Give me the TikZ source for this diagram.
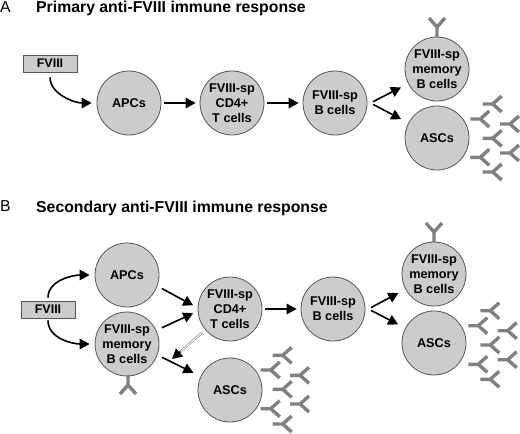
\documentclass[tikz,border=0pt]{standalone}
\usepackage{fontspec}
\setmainfont{Liberation Sans}
\usetikzlibrary{arrows.meta,positioning}
\definecolor{cellgray}{HTML}{CCCCCC}
\definecolor{edgegray}{HTML}{555555}
\definecolor{abgray}{HTML}{808080}

\begin{document}
\begin{tikzpicture}[
    x=1pt, y=-1pt,
    cell/.style={circle, draw=edgegray, line width=0.8pt, fill=cellgray, minimum size=64pt, inner sep=0pt, align=center, font=\fontsize{12.7}{15}\selectfont\bfseries},
    antigen/.style={rectangle, draw=edgegray, line width=0.8pt, fill=cellgray, minimum width=54pt, minimum height=17pt, inner sep=0pt, font=\fontsize{12.5}{13}\selectfont\bfseries},
    heading/.style={anchor=base west, inner sep=0pt, font=\fontsize{15.8}{17}\selectfont\bfseries},
    letter/.style={anchor=base west, inner sep=0pt, font=\fontsize{15.8}{17}\selectfont},
    flow/.style={-{Triangle[length=10pt,width=10.5pt]}, line width=1.6pt, black, shorten <=3pt, shorten >=4pt},
    help/.style={draw=gray, double=white, double distance=1pt, line width=0.6pt},
    abline/.style={draw=abgray, line width=3.4pt},
    antibody/.pic={\draw[abline] (0,0) -- (10,0) (19,-8) -- (10,0) -- (19,8);},
]
\useasboundingbox (0,0) rectangle (520,434);

% PRIMARY
\begin{scope}
    \node[letter] (LetterA) at (0,12) {A};
    \node[heading] (TitleA) at (36,12) {Primary anti-FVIII immune response};
    \node[antigen] (FVIII1) at (50,63.5) {FVIII};
    \node[cell] (APC1) at (129,103) {APCs};
    \node[cell] (CD41) at (232,103) {FVIII-sp\\CD4+\\T cells};
    \node[cell] (B1) at (335,103) {FVIII-sp\\B cells};
    \node[cell] (MEM1) at (437,69) {FVIII-sp\\memory\\B cells};
    \node[cell] (ASC1) at (437,138) {ASCs};
    \draw[flow, shorten <=5pt, shorten >=5pt] (FVIII1.south) to[out=-90, in=180] (APC1.west);
    \draw[flow] (APC1) -- (CD41);
    \draw[flow] (CD41) -- (B1);
    % Split after the B cells
    \draw[flow, shorten >=8pt] (B1.east) ++(3,0) coordinate (fork1) -- (MEM1);
    \draw[flow, shorten >=8pt] (fork1) -- (ASC1);
    \pic[rotate=90] at (437,37) {antibody};
    \foreach \ax/\ay in {482.7/104, 470.3/119, 500/124, 482.7/138.3, 470.3/157.3, 500/153, 482.7/172}
        \pic at (\ax,\ay) {antibody};
\end{scope}

% SECONDARY
\begin{scope}
    \node[letter] (LetterB) at (0,211) {B};
    \node[heading] (TitleB) at (36,212) {Secondary anti-FVIII immune response};
    \node[antigen] (FVIII2) at (48,309.5) {FVIII};
    \node[cell] (APC2) at (127,275) {APCs};
    \node[cell] (MEM2) at (127,344) {FVIII-sp\\memory\\B cells};
    \node[cell] (CD42) at (230,309) {FVIII-sp\\CD4+\\T cells};
    \node[cell] (ASC2) at (230,390) {ASCs};
    \node[cell] (B2) at (333,309) {FVIII-sp\\B cells};
    \node[cell] (MEM3) at (434,274) {FVIII-sp\\memory\\B cells};
    \node[cell] (ASC3) at (434,343) {ASCs};
    \coordinate (helptip) at (172,359);
    \draw[flow, shorten >=5pt] (FVIII2.north) to[out=90, in=180] (APC2.west);
    \draw[flow, shorten >=5pt, shorten <=2pt] (FVIII2.south) to[out=-90, in=180] (MEM2.west);
    \draw[flow, shorten <=5pt, shorten >=5pt] (APC2.-20) -- (CD42.178);
    \draw[flow, shorten <=6pt, shorten >=5pt] (MEM2.25) -- (CD42.184);
    \draw[flow, shorten <=5pt, shorten >=8pt] (MEM2.-20) -- (ASC2.155);
    % Hollow line, then its solid head
    \draw[help, shorten <=4pt, shorten >=8pt] (CD42.220) -- (helptip);
    \draw[flow, shorten <=33pt, shorten >=0pt] (CD42.220) -- (helptip);
    \draw[flow] (CD42) -- (B2);
    % Split after the B cells
    \draw[flow, shorten >=8pt] (B2.east) ++(3,0) coordinate (fork2) -- (MEM3);
    \draw[flow, shorten >=8pt] (fork2) -- (ASC3);
    \pic[rotate=-90] at (128,375) {antibody};
    \pic[rotate=90] at (434,242) {antibody};
    \foreach \ax/\ay in {272.7/355.3, 260.7/370, 290/375.3, 272.7/389.3, 260.7/408.7, 290/404, 272.7/424}
        \pic at (\ax,\ay) {antibody};
    \foreach \ax/\ay in {480.3/310.7, 468.3/325.7, 497.7/330.7, 480.3/345, 468.3/364.3, 497.7/359.7, 480.3/379.3}
        \pic at (\ax,\ay) {antibody};
\end{scope}
\end{tikzpicture}
\end{document}
